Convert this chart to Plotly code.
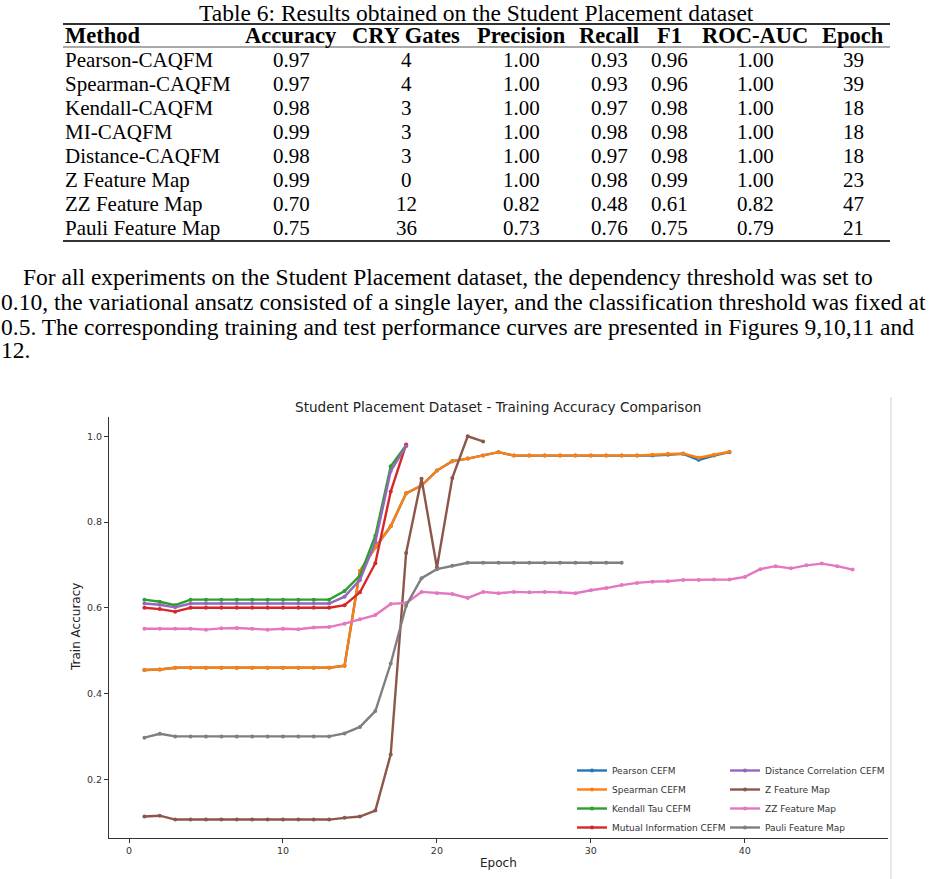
import plotly.graph_objects as go

W, H = 947, 879

# ---------------- Table data ----------------
table_caption = "Table 6: Results obtained on the Student Placement dataset"
headers = ["Method", "Accuracy", "CRY Gates", "Precision", "Recall", "F1", "ROC-AUC", "Epoch"]
methods = ["Pearson-CAQFM", "Spearman-CAQFM", "Kendall-CAQFM", "MI-CAQFM",
           "Distance-CAQFM", "Z Feature Map", "ZZ Feature Map", "Pauli Feature Map"]
accuracy = [0.97, 0.97, 0.98, 0.99, 0.98, 0.99, 0.70, 0.75]
cry_gates = [4, 4, 3, 3, 3, 0, 12, 36]
precision = [1.00, 1.00, 1.00, 1.00, 1.00, 1.00, 0.82, 0.73]
recall = [0.93, 0.93, 0.97, 0.98, 0.97, 0.98, 0.48, 0.76]
f1 = [0.96, 0.96, 0.98, 0.98, 0.98, 0.99, 0.61, 0.75]
roc_auc = [1.00, 1.00, 1.00, 1.00, 1.00, 1.00, 0.82, 0.79]
epochs_col = [39, 39, 18, 18, 18, 23, 47, 21]

paragraph = [
    "For all experiments on the Student Placement dataset, the dependency threshold was set to",
    "0.10, the variational ansatz consisted of a single layer, and the classification threshold was fixed at",
    "0.5. The corresponding training and test performance curves are presented in Figures 9,10,11 and",
    "12.",
]

# ---------------- Chart data ----------------
chart_title = "Student Placement Dataset - Training Accuracy Comparison"
x_ticks = [0, 10, 20, 30, 40]
y_ticks = [0.2, 0.4, 0.6, 0.8, 1.0]

pearson = [0.455, 0.456, 0.460, 0.460, 0.460, 0.460, 0.460, 0.460, 0.460, 0.460, 0.460, 0.460, 0.460,
           0.465, 0.686, 0.741, 0.790, 0.867, 0.885, 0.920, 0.942, 0.948, 0.955, 0.963,
           0.955, 0.955, 0.955, 0.955, 0.955, 0.955, 0.955, 0.955, 0.955,
           0.955, 0.957, 0.959, 0.945, 0.955, 0.963]
spearman = [0.455, 0.456, 0.460, 0.460, 0.460, 0.460, 0.460, 0.460, 0.460, 0.460, 0.460, 0.460, 0.460,
            0.465, 0.686, 0.741, 0.790, 0.867, 0.885, 0.920, 0.942, 0.948, 0.955, 0.963,
            0.955, 0.955, 0.955, 0.955, 0.955, 0.955, 0.955, 0.955, 0.955,
            0.957, 0.959, 0.960, 0.950, 0.957, 0.964]
kendall = [0.619, 0.614, 0.606, 0.619, 0.619, 0.619, 0.619, 0.619, 0.619, 0.619, 0.619, 0.619, 0.619,
           0.639, 0.675, 0.768, 0.930, 0.979]
mutual_info = [0.600, 0.597, 0.591, 0.600, 0.600, 0.600, 0.600, 0.600, 0.600, 0.600, 0.600, 0.600, 0.600,
               0.606, 0.636, 0.704, 0.871, 0.981]
distance = [0.610, 0.607, 0.601, 0.610, 0.610, 0.610, 0.610, 0.610, 0.610, 0.610, 0.610, 0.610, 0.610,
            0.626, 0.665, 0.753, 0.919, 0.977]
z_map = [0.113, 0.115, 0.106, 0.106, 0.106, 0.106, 0.106, 0.106, 0.106, 0.106, 0.106, 0.106, 0.106,
         0.110, 0.113, 0.127, 0.258, 0.728, 0.901, 0.694, 0.903, 1.000, 0.988]
zz_map = [0.551, 0.551, 0.551, 0.551, 0.549, 0.552, 0.553, 0.551, 0.549, 0.551, 0.550, 0.554, 0.555,
          0.563, 0.573, 0.583, 0.609, 0.611,
          0.637, 0.634, 0.632, 0.623, 0.637, 0.634, 0.637, 0.636, 0.637, 0.636, 0.634, 0.641,
          0.646, 0.653, 0.658, 0.661, 0.662, 0.665, 0.665, 0.666, 0.666, 0.672, 0.690, 0.697,
          0.692, 0.699, 0.703, 0.697, 0.689]
pauli = [0.297, 0.306, 0.300, 0.300, 0.300, 0.300, 0.300, 0.300, 0.300, 0.300, 0.300, 0.300, 0.300,
         0.307, 0.322, 0.359, 0.470, 0.605, 0.669, 0.690, 0.698,
         0.705, 0.705, 0.705, 0.705, 0.705, 0.705, 0.705, 0.705, 0.705, 0.705, 0.705]

series = [
    ("Pearson CEFM", pearson, "#1f77b4", "legend"),
    ("Spearman CEFM", spearman, "#ff7f0e", "legend"),
    ("Kendall Tau CEFM", kendall, "#2ca02c", "legend"),
    ("Mutual Information CEFM", mutual_info, "#d62728", "legend"),
    ("Distance Correlation CEFM", distance, "#9467bd", "legend2"),
    ("Z Feature Map", z_map, "#8c564b", "legend2"),
    ("ZZ Feature Map", zz_map, "#e377c2", "legend2"),
    ("Pauli Feature Map", pauli, "#7f7f7f", "legend2"),
]

def px(x):
    return x / W

def py(y):
    return 1 - y / H

fig = go.Figure()
for name, vals, color, leg in series:
    fig.add_trace(go.Scatter(
        x=list(range(1, len(vals) + 1)), y=vals, name=name, mode="lines+markers",
        line=dict(color=color, width=2.4), marker=dict(color=color, size=4),
        legend=leg,
    ))

SERIF = "Liberation Serif"
SANS = "DejaVu Sans"
annotations = []

def note(x, y, text, family, size, anchor="center", color="black", angle=0):
    annotations.append(dict(xref="paper", yref="paper", x=px(x), y=py(y), text=text,
                            showarrow=False, xanchor=anchor, yanchor="middle",
                            textangle=angle, borderpad=0,
                            font=dict(family=family, size=size, color=color)))

# table caption
note(476, 13, table_caption, SERIF, 23.5)

col_x = [64, 291, 406, 521, 609, 669, 755, 853]
col_anchor = ["left"] + ["center"] * 7
header_y = 35.5
row_y0, row_dy = 60, 24

for h, cx, an in zip(headers, col_x, col_anchor):
    note(cx, header_y, "<b>" + h + "</b>", SERIF, 22.5, an)

columns = [
    methods,
    [f"{v:.2f}" for v in accuracy],
    [str(v) for v in cry_gates],
    [f"{v:.2f}" for v in precision],
    [f"{v:.2f}" for v in recall],
    [f"{v:.2f}" for v in f1],
    [f"{v:.2f}" for v in roc_auc],
    [str(v) for v in epochs_col],
]
for col, cx, an in zip(columns, col_x, col_anchor):
    for i, t in enumerate(col):
        note(cx, row_y0 + i * row_dy, t, SERIF, 21, an)

# paragraph
para_y = [277, 302, 327, 350]
para_x = [22, 0, 0, 0]
for t, yy, xx in zip(paragraph, para_y, para_x):
    note(xx, yy, t, SERIF, 23.5, "left")

# chart title and axis titles
note(498, 407, chart_title, SANS, 13.6, color="#222")
note(498, 863, "Epoch", SANS, 12, color="#222")
note(76, 627, "Train Accuracy", SANS, 12, color="#222", angle=-90)

shapes = [
    dict(type="line", xref="paper", yref="paper", x0=px(63), x1=px(890), y0=py(24), y1=py(24),
         line=dict(color="#333", width=1.8)),
    dict(type="line", xref="paper", yref="paper", x0=px(63), x1=px(890), y0=py(47), y1=py(47),
         line=dict(color="#555", width=1.2)),
    dict(type="line", xref="paper", yref="paper", x0=px(63), x1=px(890), y0=py(241), y1=py(241),
         line=dict(color="#333", width=1.8)),
    dict(type="line", xref="paper", yref="paper", x0=px(891), x1=px(891), y0=py(397), y1=0,
         line=dict(color="#e8e8e8", width=2)),
]

legend_common = dict(xanchor="left", yanchor="top", bgcolor="rgba(0,0,0,0)",
                     font=dict(family=SANS, size=9, color="#333"), tracegroupgap=0,
                     itemwidth=30, borderwidth=0)

fig.update_layout(
    width=W, height=H, margin=dict(l=0, r=0, t=0, b=0),
    paper_bgcolor="white", plot_bgcolor="white",
    showlegend=True,
    legend=dict(x=px(572), y=py(756), **legend_common),
    legend2=dict(x=px(725), y=py(756), **legend_common),
    xaxis=dict(domain=[px(109), px(888)], range=[-1.3, 49.3], tickvals=x_ticks,
               showgrid=False, zeroline=False, showline=True, linecolor="#333", linewidth=1,
               ticks="outside", ticklen=4, tickcolor="#333",
               tickfont=dict(family=SANS, size=9.5, color="#333")),
    yaxis=dict(domain=[py(838), py(417)], range=[0.063, 1.045], tickvals=y_ticks,
               tickformat=".1f",
               showgrid=False, zeroline=False, showline=True, linecolor="#333", linewidth=1,
               ticks="outside", ticklen=4, tickcolor="#333",
               tickfont=dict(family=SANS, size=9.5, color="#333")),
    annotations=annotations,
    shapes=shapes,
)

fig.write_html("out.html")
